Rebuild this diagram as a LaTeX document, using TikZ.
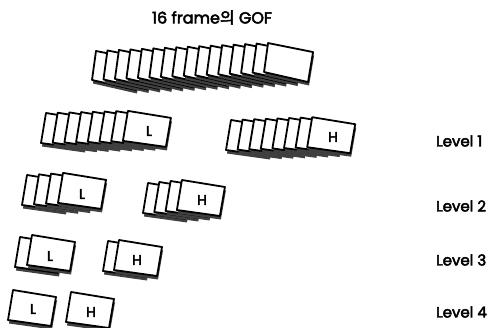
\documentclass[tikz,border=0pt]{standalone}
\usepackage{fontspec}
\setmainfont{Poppins}[FakeBold=3]
\newfontfamily\kr{Noto Sans CJK KR}[FakeBold=3]
\begin{document}
\begin{tikzpicture}[x=1pt,y=-1pt,
  frm/.style={draw=black,fill=white,line width=1.8pt,line join=round},
  shd/.style={fill=black!75,draw=none},
  lab/.style={font=\fontsize{14}{14}\selectfont, inner sep=0pt},
  lvl/.style={font=\fontsize{15}{15}\selectfont, anchor=west, inner sep=0pt}]
\useasboundingbox[fill=white] (0,0) rectangle (490,328);
% generic frame: TL, TR=(+43,+7), BR=(+38,+36), BL=(-5,+30)
\newcommand\myframe[2]{%
  \fill[shd] (#1+1,#2+3.5) -- ++(43,7) -- ++(-5,29) -- ++(-43,-6) -- cycle;
  \draw[frm] (#1,#2) -- ++(43,7) -- ++(-5,29) -- ++(-43,-6) -- cycle;}
\newcommand\bigframe[2]{%
  \fill[shd] (#1+1,#2+3.5) -- ++(45,9) -- ++(-5,30) -- ++(-44,-10) -- cycle;
  \draw[frm] (#1,#2) -- ++(45,9) -- ++(-5,30) -- ++(-44,-10) -- cycle;}
% title
\node[font=\fontsize{16}{16}\selectfont, inner sep=0pt] (title) at (212,17.5) {16 frame{\kr 의} GOF};
% top row: 16 frames
\foreach \i in {0,...,15} {\bigframe{96+11.47*\i}{51-0.53*\i}}
% level 1
\foreach \i in {0,...,7} {\myframe{46+11.7*\i}{113-0.3*\i}}
\node[lab] (l1) at (149,131) {L};
\foreach \i in {0,...,7} {\myframe{231+11.6*\i}{120-0.4*\i}}
\node[lab] (h1) at (333,137) {H};
% level 2
\foreach \i in {0,...,3} {\myframe{27+12*\i}{175-0.7*\i}}
\node[lab] (l2) at (82,194) {L};
\foreach \i in {0,...,3} {\myframe{148+11.3*\i}{183-1*\i}}
\node[lab] (h2) at (202,200) {H};
% level 3
\foreach \i in {0,1} {\myframe{20+12*\i}{237-2*\i}}
\node[lab] (l3) at (50,256) {L};
\foreach \i in {0,1} {\myframe{108+11*\i}{241-1*\i}}
\node[lab] (h3) at (137,260) {H};
% level 4
\myframe{13}{290}
\node[lab] (l4) at (33,309) {L};
\myframe{71}{292}
\node[lab] (h4) at (91,312) {H};
% level labels
\node[lvl] (lv1) at (436,141) {Level 1};
\node[lvl] (lv2) at (436,206) {Level 2};
\node[lvl] (lv3) at (436,260) {Level 3};
\node[lvl] (lv4) at (436,312) {Level 4};
\end{tikzpicture}
\end{document}
